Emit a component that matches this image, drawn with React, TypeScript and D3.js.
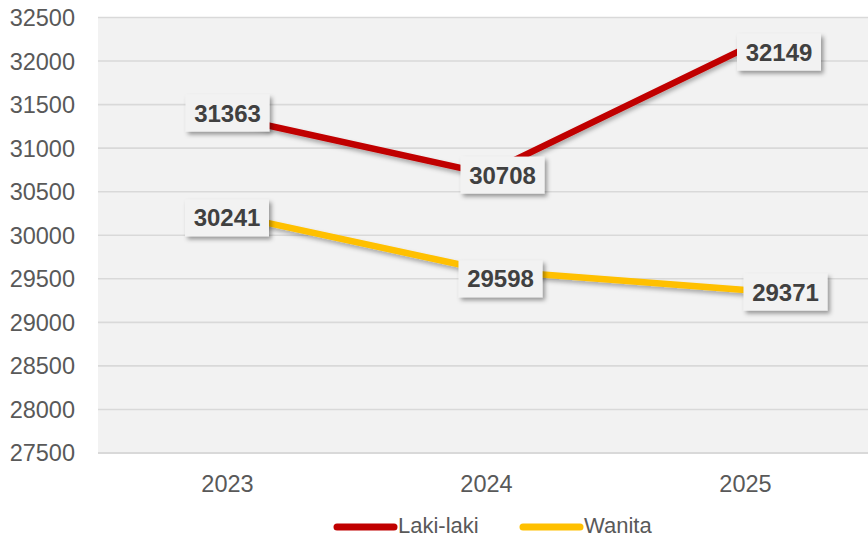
import React from "react";
import * as d3 from "d3";

const categories = ["2023", "2024", "2025"];
const lakiValues = [31363, 30708, 32149];
const wanitaValues = [30241, 29598, 29371];
const yTicks = [27500, 28000, 28500, 29000, 29500, 30000, 30500, 31000, 31500, 32000, 32500];
const seriesNames = ["Laki-laki", "Wanita"];

// layout (label box offsets from their data point, in px)
const lakiLabelOffsets: [number, number][] = [[0, -3.5], [16, 1.5], [33.5, 4]];
const wanitaLabelOffsets: [number, number][] = [[-0.5, 3.5], [14, 8.5], [40, 2]];

const W = 868;
const H = 537;
const plotLeft = 98;
const plotRight = 875;
const plotTop = 17.5;
const plotBottom = 453;
const FONT = "'Liberation Sans', Arial, sans-serif";
const COLORS = ["#C00000", "#FFC000"];

export default function App() {
  const x = d3.scaleBand<string>().domain(categories).range([plotLeft, plotRight]).padding(0);
  const y = d3.scaleLinear().domain([27500, 32500]).range([plotBottom, plotTop]);
  const cx = (c: string) => (x(c) as number) + x.bandwidth() / 2;

  const line = d3
    .line<number>()
    .x((_, i) => cx(categories[i]))
    .y((v) => y(v));

  const series = [
    { name: seriesNames[0], values: lakiValues, offsets: lakiLabelOffsets, color: COLORS[0] },
    { name: seriesNames[1], values: wanitaValues, offsets: wanitaLabelOffsets, color: COLORS[1] },
  ];

  const boxW = 84;
  const boxH = 37;

  return (
    <svg
      width={W}
      height={H}
      style={{ position: "absolute", left: 0, top: 0, display: "block", background: "#fff" }}
    >
      <defs>
        <filter id="shadow" x="-20%" y="-40%" width="150%" height="200%">
          <feDropShadow dx="2.5" dy="3" stdDeviation="2.2" floodColor="#000" floodOpacity="0.38" />
        </filter>
        <filter id="lshadow" x="-10%" y="-30%" width="120%" height="160%">
          <feDropShadow dx="1" dy="3" stdDeviation="2" floodColor="#000" floodOpacity="0.3" />
        </filter>
      </defs>
      <rect x={plotLeft} y={plotTop} width={plotRight - plotLeft} height={plotBottom - plotTop} fill="#f2f2f2" />
      {yTicks.map((t) => (
        <line
          key={t}
          x1={plotLeft}
          x2={plotRight}
          y1={y(t)}
          y2={y(t)}
          stroke="#d9d9d9"
          strokeWidth={t === 27500 ? 2 : 1.6}
        />
      ))}
      {yTicks.map((t) => (
        <text
          key={"l" + t}
          x={75}
          y={y(t)}
          dy="0.36em"
          textAnchor="end"
          fontFamily={FONT}
          fontSize={23.5}
          fill="#595959"
        >
          {t}
        </text>
      ))}
      {categories.map((c) => (
        <text key={c} x={cx(c)} y={492} textAnchor="middle" fontFamily={FONT} fontSize={23.5} fill="#595959">
          {c}
        </text>
      ))}
      {series.map((s) => (
        <path
          key={s.name}
          d={line(s.values) as string}
          fill="none"
          stroke={s.color}
          strokeWidth={6.5}
          strokeLinejoin="round"
          strokeLinecap="round"
          filter="url(#lshadow)"
        />
      ))}
      {series.map((s) =>
        s.values.map((v, i) => {
          const px = cx(categories[i]) + s.offsets[i][0];
          const py = y(v) + s.offsets[i][1];
          return (
            <g key={s.name + i}>
              <rect
                x={px - boxW / 2}
                y={py - boxH / 2}
                width={boxW}
                height={boxH}
                fill="#f2f2f2"
                filter="url(#shadow)"
              />
              <text
                x={px}
                y={py}
                dy="0.36em"
                textAnchor="middle"
                fontFamily={FONT}
                fontWeight="bold"
                fontSize={24}
                fill="#404040"
              >
                {v}
              </text>
            </g>
          );
        })
      )}
      {/* legend */}
      {series.map((s, i) => {
        const lx = [337, 523][i];
        return (
          <g key={"lg" + s.name}>
            <line x1={lx} x2={lx + 57} y1={527} y2={527} stroke={s.color} strokeWidth={7} strokeLinecap="round" />
            <text x={lx + 61} y={533} fontFamily={FONT} fontSize={22} fill="#595959">
              {s.name}
            </text>
          </g>
        );
      })}
    </svg>
  );
}
